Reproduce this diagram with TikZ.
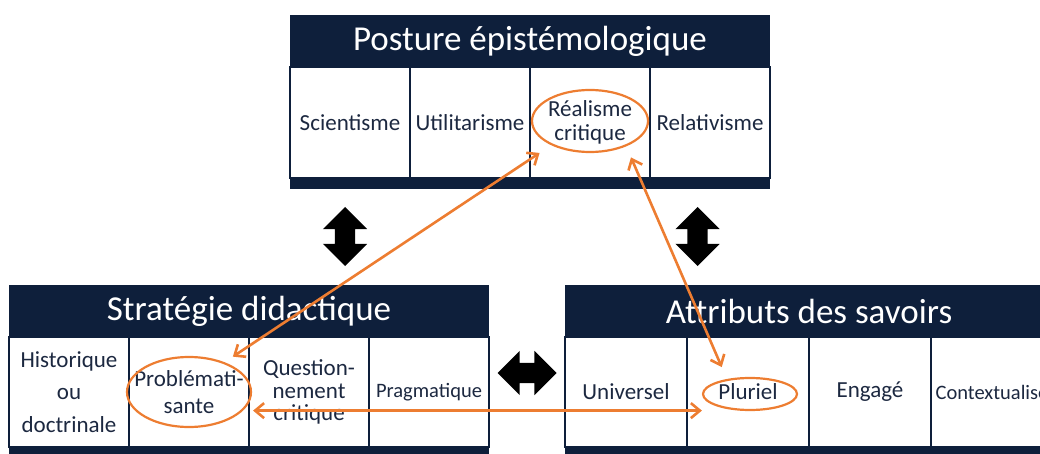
\documentclass[tikz,border=0pt]{standalone}
\usepackage{fontspec}
\setmainfont{Carlito}
\usetikzlibrary{shapes.geometric, shapes.arrows, arrows.meta}

\definecolor{navy}{HTML}{0E1F3B}
\definecolor{ink}{HTML}{1C2840}
\definecolor{accent}{HTML}{ED7D31}

\tikzset{
  header/.style={fill=navy, text=white, minimum height=52pt, inner sep=0pt, font=\fontsize{35}{35}\selectfont},
  cell/.style={draw=navy, text=ink, line width=1.2pt, minimum height=110pt, align=center, inner sep=1pt, font=\fontsize{23}{22.5}\selectfont},
  ring/.style={ellipse, draw=accent, line width=2.2pt, inner sep=0pt},
  link/.style={{Straight Barb[length=9pt,width=15pt]}-{Straight Barb[length=9pt,width=15pt]}, draw=accent, line width=2.6pt},
  bigarrow/.style={double arrow, fill=black, minimum height=59pt, double arrow head extend=12pt, inner xsep=0pt, inner ysep=10pt}
}

\begin{document}
\begin{tikzpicture}[x=1pt, y=-1pt]

        % Cadre
        \useasboundingbox (0,0) rectangle (1040,454);
        \clip (0,0) rectangle (1040,454);

        % Posture epistemologique
        \node[header, minimum width=480pt] (postHead) at (530,41) {Posture épistémologique};
        \foreach \i/\txt in {1/Scientisme, 2/Utilitarisme, 3/{Réalisme\\[1pt]critique}, 4/Relativisme} {
            \node[cell, minimum width=120pt, minimum height=111pt] (post\i) at (230+120*\i,122.5) {\txt};
        }
        \fill[navy] (290,178) rectangle (770,189);

        % Strategie didactique
        \node[header, minimum width=480pt] (stratHead) at (249,311) {Stratégie didactique};
        \foreach \i/\txt in {1/{Historique\\[10pt]ou\\[10pt]doctrinale}, 2/{Problémati-\\[4pt]sante}, 3/{Question-\\nement\\critique}, 4/{\fontsize{20.5}{22}\selectfont Pragmatique}} {
            \node[cell, minimum width=120pt] (strat\i) at (-51+120*\i,392) {\txt};
        }
        \fill[navy] (9,447) rectangle (489,460);

        % Attributs des savoirs
        \node[header, minimum width=488pt] (attrHead) at (809,311) {Attributs des savoirs};
        \foreach \i/\txt in {1/Universel, 2/Pluriel, 3/Engagé, 4/{\fontsize{20.5}{22}\selectfont Contextualisé}} {
            \node[cell, minimum width=122pt] (attr\i) at (504+122*\i,392) {\txt};
        }
        \fill[navy] (565,447) rectangle (1053,460);

        % Ellipses
        \node[ring, minimum width=116pt, minimum height=62pt] (elReal) at (590,121) {};
        \node[ring, minimum width=124pt, minimum height=70pt] (elProb) at (189,392) {};
        \node[ring, minimum width=94pt, minimum height=32pt] (elPlur) at (750,394) {};

        % Fleches noires
        \node[bigarrow, rotate=90] (arrLeft) at (345,236.5) {};
        \node[bigarrow, rotate=90] (arrRight) at (697.5,236.5) {};
        \node[bigarrow] (arrMid) at (527,373) {};

        % Liens
        \draw[link, shorten <=10pt, shorten >=14pt] (elProb.40) -- (elReal.212);
        \draw[link, shorten <=12pt, shorten >=13pt] (elReal.-35) -- (elPlur.147);
        \draw[link, shorten <=10pt] (elProb.-19) -- (elProb.-19 -| elPlur.west);

    \end{tikzpicture}
\end{document}
